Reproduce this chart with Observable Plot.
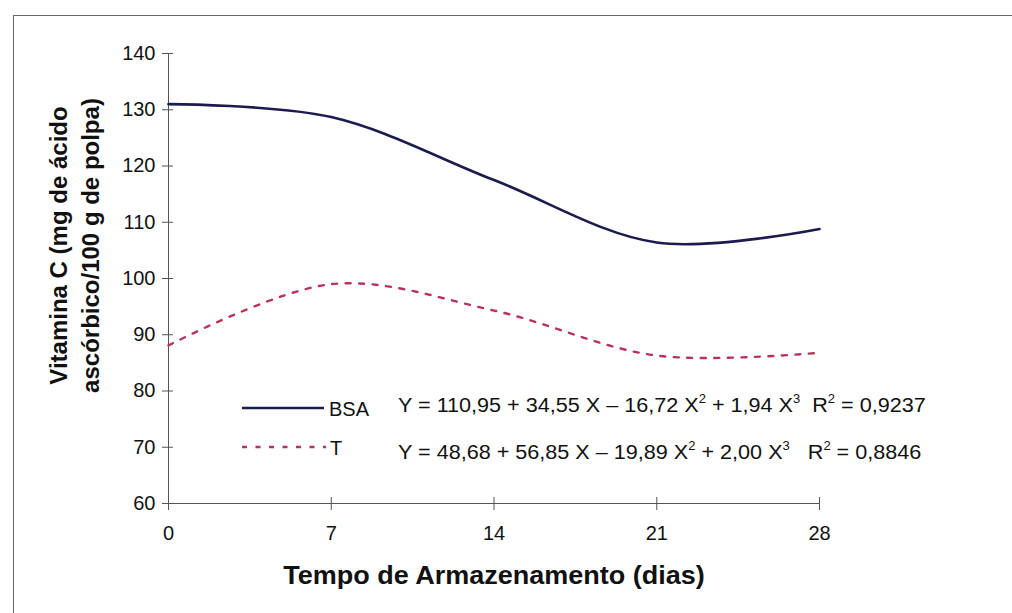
<!DOCTYPE html>
<html>
<head>
<meta charset="utf-8">
<script src="https://cdn.jsdelivr.net/npm/d3@7"></script>
<script src="https://cdn.jsdelivr.net/npm/@observablehq/plot@0.6"></script>
<style>
  html, body { margin: 0; padding: 0; background: #fff; }
  #wrap { position: relative; width: 1012px; height: 613px; overflow: hidden; background: #fff;
          font-family: "Liberation Sans", Arial, sans-serif; color: #111; }
  #frame { position: absolute; left: 13px; top: 15px; width: 1100px; height: 700px;
           border: 1px solid #666; box-sizing: border-box; }
  #chart { position: absolute; left: 0; top: 0; }
  .lg { position: absolute; font-size: 20px; line-height: 20px; white-space: nowrap;
        transform: scaleX(1.08); transform-origin: 0 0; }
  .lg sup { font-size: 12px; position: relative; top: -9px; vertical-align: baseline; line-height: 0; }
  .sw { position: absolute; }
</style>
</head>
<body>
<div id="wrap">
  <div id="frame"></div>
  <div id="chart"></div>
  <svg class="sw" style="left:242px;top:406px" width="82" height="4"><line x1="0" y1="2" x2="82" y2="2" stroke="#1c1b4d" stroke-width="2.6"/></svg>
  <div class="lg" style="left:329px;top:399px;transform:none">BSA</div>
  <div class="lg" style="left:398px;top:395px">Y = 110,95 + 34,55 X – 16,72 X<sup>2</sup> + 1,94 X<sup>3</sup>&nbsp;&nbsp;R<sup>2</sup> = 0,9237</div>
  <svg class="sw" style="left:242px;top:445px" width="84" height="4"><line x1="0" y1="2" x2="84" y2="2" stroke="#b8335a" stroke-width="2.4" stroke-dasharray="5,8.5"/></svg>
  <div class="lg" style="left:330px;top:438px;transform:none">T</div>
  <div class="lg" style="left:398px;top:442px">Y = 48,68 + 56,85 X – 19,89 X<sup>2</sup> + 2,00 X<sup>3</sup>&nbsp;&nbsp;&nbsp;R<sup>2</sup> = 0,8846</div>
</div>
<script>
const days = [0, 7, 14, 21, 28];
const bsa = [131.0, 128.7, 117.5, 106.4, 108.8];
const tValues = [88.1, 99.0, 94.3, 86.3, 86.8];
const xTicks = [0, 7, 14, 21, 28];
const yTicks = [60, 70, 80, 90, 100, 110, 120, 130, 140];
const xTitle = "Tempo de Armazenamento (dias)";
const yTitle = "Vitamina C (mg de ácido\nascórbico/100 g de polpa)";

const bsaData = days.map((d, i) => ({day: d, value: bsa[i]}));
const tData = days.map((d, i) => ({day: d, value: tValues[i]}));

const chart = Plot.plot({
  width: 1012,
  height: 613,
  marginLeft: 168,
  marginRight: 193,
  marginTop: 53,
  marginBottom: 110,
  style: {fontFamily: "Liberation Sans, Arial, sans-serif", fontSize: "20px", color: "#111", background: "transparent", overflow: "visible"},
  x: {domain: [0, 28], ticks: xTicks},
  y: {domain: [60, 140], ticks: yTicks},
  marks: [
    Plot.ruleX([0], {stroke: "#555", strokeWidth: 1}),
    Plot.ruleY([60], {stroke: "#555", strokeWidth: 1}),
    Plot.axisY({ticks: yTicks, tickSize: 11, dx: 5, tickFormat: () => "", label: null, stroke: "#555"}),
    Plot.axisY({ticks: yTicks, tickSize: 0, tickPadding: 13, label: null, fill: "#111"}),
    Plot.axisX({ticks: xTicks, tickSize: 13, dy: -6, tickFormat: () => "", label: null, stroke: "#555"}),
    Plot.axisX({ticks: xTicks, tickSize: 0, tickPadding: 22, label: null, fill: "#111"}),
    Plot.line(tData, {x: "day", y: "value", curve: "catmull-rom", stroke: "#b8335a", strokeWidth: 2.4, strokeDasharray: "5,8.5"}),
    Plot.line(bsaData, {x: "day", y: "value", curve: "catmull-rom", stroke: "#1c1b4d", strokeWidth: 2.6}),
    Plot.text([xTitle], {frameAnchor: "bottom", dy: 80, fontSize: 25, fontWeight: "bold", fill: "#111"}),
    Plot.text([yTitle], {frameAnchor: "left", rotate: -90, textAnchor: "middle", dx: -96, dy: -33, fontSize: 24, fontWeight: "bold", lineHeight: 1.33, fill: "#111"})
  ]
});
document.getElementById("chart").appendChild(chart);
// widen the x-axis title a little, as in the (horizontally stretched) reference scan
for (const t of chart.querySelectorAll("text")) {
  if (t.textContent === xTitle) {
    const tr = t.getAttribute("transform") || "";
    t.setAttribute("transform", tr + " scale(1.08,1)");
  }
}
</script>
</body>
</html>
